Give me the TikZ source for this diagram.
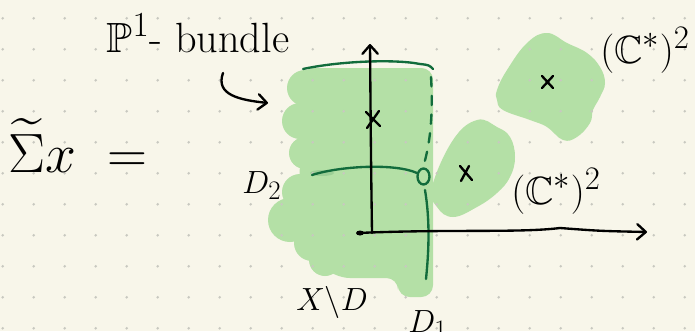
\documentclass[tikz,border=0pt]{standalone}
\usepackage{amsmath, amssymb}
\usepackage{tikz}
\usetikzlibrary{arrows.meta}
\usepackage{xcolor}
\definecolor{papercol}{HTML}{F8F6EA}
\definecolor{blobcol}{HTML}{B4E0A6}
\definecolor{divcol}{HTML}{126C3C}
\definecolor{gridcol}{HTML}{C8C8C0}

\begin{document}
\begin{tikzpicture}[
    x=0.03cm, y=-0.03cm,
    blob/.style={fill=blobcol},
    divisor/.style={draw=divcol, line width=2pt, line cap=round},
    pen/.style={draw=black, line width=2pt, line cap=round, line join=round},
    barb/.style={-{Straight Barb[length=2.6mm, width=4.6mm, round]}},
    hand/.style={inner sep=0pt, text=black, font=\Huge},
]

% Paper
\useasboundingbox (0,0) rectangle (695,331);
\clip (0,0) rectangle (695,331);
\fill[papercol] (0,0) rectangle (695,331);

% P^1-bundle over X minus D
\fill[blob, rounded corners=10pt] (302,68) -- (433,68) -- (433,297) -- (398,297)
    -- (398,278) -- (338,278) -- (298,248) -- cycle;
\foreach \cx/\cy/\r in {305/88/18, 300/121/18, 305/153/16, 300/192/18,
                        290/220/22, 312/243/18, 325/260/16}
  \fill[blob] (\cx,\cy) circle (\r);
\fill[blobcol!85!divcol] (322,173) ellipse (12 and 3);

% Two torus charts
\fill[blob] plot[smooth cycle, tension=0.7] coordinates {
    (432,187) (453,140) (477,120) (497,127) (510,137) (515,157)
    (510,177) (497,193) (477,207) (453,217) (437,207)};
\fill[blob] plot[smooth cycle, tension=0.7] coordinates {
    (497,90) (507,70) (527,43) (547,33) (567,43) (587,53) (600,67)
    (605,83) (600,97) (593,110) (590,123) (577,137) (563,140)
    (547,127) (530,120) (503,110) (497,100)};

% Dot grid
\foreach \i in {0,...,22} {
  \foreach \j in {0,...,10} {
    \fill[gridcol] ({2.7+31*\i},{18.3+31*\j}) circle (1.4);
  }
}

% Divisors
\draw[divisor] (303,69) .. controls (340,61) and (395,59) .. (420,64)
    .. controls (429,65) .. (433,69);
\draw[divisor, dash pattern=on 8pt off 8pt] (431,77) .. controls (433,110) and (431,140) .. (424,164);
\draw[divisor] (312,175) .. controls (340,166) and (395,163) .. (417,173);
\draw[divisor] (423.5,176.5) ellipse (6 and 8);
\draw[divisor] (425,190) .. controls (430,220) and (429,250) .. (426,279);

% Axes
\draw[pen, barb] (372,233) .. controls (371,160) .. (370,44);
\draw[pen, barb] (358,233) .. controls (450,229) and (520,233) .. (560,228)
    .. controls (600,231) .. (647,232);
\fill (360,233) ellipse (4 and 2.5);

% Marked points
\draw[pen] (366,112) -- (380,126) (379,111) -- (367,128);
\draw[pen] (460,166) -- (472,180) (469,166) -- (461,181);
\draw[pen] (542,76) -- (553,88) (553,76) -- (542,88);

% Labels
\node[hand, anchor=base, scale=1.45] (bundle) at (198,52) {$\mathbb{P}^1$- bundle};
\node[hand, anchor=base west, scale=1.9] (sigma) at (8,172) {$\widetilde{\Sigma}x\;=$};
\node[hand, anchor=base west, scale=1.1] (dtwo) at (242,193) {$D_2$};
\node[hand, anchor=base west, scale=1.1] (xminusd) at (296,310) {$X\backslash D$};
\node[hand, anchor=base west, scale=1.1] (done) at (408,332) {$D_1$};
\node[hand, anchor=base west, scale=1.35] (torusup) at (600,63) {$(\mathbb{C}^*)^2$};
\node[hand, anchor=base west, scale=1.35] (toruslow) at (511,204) {$(\mathbb{C}^*)^2$};

% Pointer to the bundle
\coordinate (arrfrom) at (223,73);
\coordinate (arrto) at (268,103);
\draw[pen, barb] (arrfrom) .. controls (215,95) and (240,100) .. (arrto);

\end{tikzpicture}
\end{document}
